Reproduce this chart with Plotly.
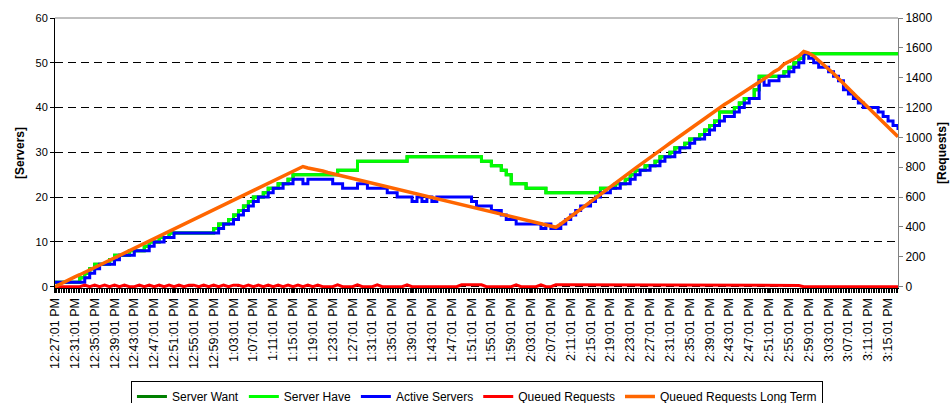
import pandas as pd
import plotly.graph_objects as go

# ---- data (one value per minute, 12:27:01 PM onwards) ----
server_have = [
    1, 1, 1, 1, 1, 2, 3, 4, 5, 5,
    5, 6, 7, 7, 7, 8, 8, 8, 9, 10,
    10, 11, 11, 12, 12, 12, 12, 12, 12, 12,
    12, 12, 13, 14, 14, 15, 16, 17, 18, 19,
    20, 20, 21, 22, 22, 23, 23, 24, 25, 25,
    25, 25, 25, 25, 25, 25, 25, 26, 26, 26,
    26, 28, 28, 28, 28, 28, 28, 28, 28, 28,
    28, 29, 29, 29, 29, 29, 29, 29, 29, 29,
    29, 29, 29, 29, 29, 29, 28, 28, 27, 27,
    26, 25, 23, 23, 23, 22, 22, 22, 22, 21,
    21, 21, 21, 21, 21, 21, 21, 21, 21, 21,
    22, 22, 22, 23, 23, 24, 25, 26, 26, 27,
    27, 28, 29, 29, 30, 31, 31, 32, 33, 33,
    34, 35, 36, 37, 39, 39, 39, 40, 41, 42,
    42, 44, 47, 47, 47, 47, 47, 48, 49, 50,
    51, 52, 52, 52, 52, 52, 52, 52, 52, 52,
    52, 52, 52, 52, 52, 52, 52, 52, 52, 52,
    52,
]
server_want = list(server_have)

active_servers = [
    1, 1, 1, 1, 1, 1, 2, 3, 4, 5,
    5, 5, 6, 7, 7, 7, 8, 8, 8, 9,
    10, 10, 11, 11, 12, 12, 12, 12, 12, 12,
    12, 12, 12, 13, 14, 14, 15, 16, 17, 18,
    19, 20, 20, 21, 22, 22, 23, 23, 24, 24,
    23, 24, 24, 24, 24, 24, 23, 23, 22, 22,
    22, 23, 23, 22, 22, 22, 22, 21, 21, 20,
    20, 20, 19, 20, 19, 20, 19, 20, 20, 20,
    20, 20, 20, 20, 19, 18, 18, 18, 17, 17,
    16, 15, 15, 14, 14, 14, 14, 14, 13, 14,
    13, 13, 14, 15, 16, 17, 18, 18, 19, 20,
    21, 21, 22, 22, 23, 23, 24, 25, 26, 26,
    27, 27, 28, 29, 29, 30, 31, 31, 32, 33,
    33, 34, 35, 36, 37, 38, 38, 39, 40, 41,
    42, 42, 46, 45, 46, 46, 47, 47, 48, 49,
    50, 52, 51, 50, 49, 49, 48, 47, 46, 44,
    43, 42, 41, 40, 40, 40, 39, 38, 37, 36,
    35,
]

queued_requests = [
    0, 0, 0, 0, 0, 0, 10, 0, 10, 0,
    10, 0, 10, 0, 10, 0, 0, 10, 0, 10,
    0, 10, 0, 10, 0, 10, 0, 10, 10, 0,
    10, 0, 10, 0, 10, 0, 10, 10, 0, 10,
    0, 10, 0, 10, 0, 10, 0, 10, 0, 10,
    0, 10, 0, 10, 0, 0, 0, 12, 0, 0,
    0, 12, 0, 0, 0, 12, 0, 0, 0, 0,
    0, 12, 0, 0, 0, 0, 0, 0, 0, 0,
    0, 0, 12, 12, 12, 12, 12, 0, 0, 0,
    0, 0, 0, 12, 0, 0, 0, 0, 12, 0,
    0, 12, 12, 12, 12, 12, 12, 12, 8, 12,
    8, 12, 8, 12, 8, 12, 8, 12, 8, 12,
    8, 12, 8, 12, 8, 12, 8, 12, 8, 12,
    8, 12, 8, 12, 8, 12, 12, 12, 8, 12,
    8, 12, 8, 12, 8, 12, 8, 12, 8, 12,
    8, 0, 0, 0, 0, 0, 0, 0, 0, 0,
    0, 0, 0, 0, 0, 0, 0, 0, 0, 0,
    0,
]

queued_long_term = [
    0, 18, 34, 50, 66, 80, 96, 112, 128, 145,
    160, 176, 192, 208, 224, 240, 255, 272, 288, 304,
    320, 336, 352, 368, 383, 400, 416, 432, 448, 464,
    480, 496, 512, 528, 543, 560, 576, 592, 608, 624,
    640, 656, 672, 688, 703, 720, 736, 752, 768, 784,
    805, 795, 790, 780, 775, 765, 757, 750, 742, 735,
    727, 718, 710, 703, 695, 687, 679, 671, 663, 655,
    647, 640, 632, 624, 616, 608, 600, 592, 584, 576,
    568, 560, 552, 544, 536, 528, 520, 512, 504, 497,
    489, 481, 473, 465, 457, 449, 441, 433, 425, 417,
    410, 398, 420, 445, 470, 497, 522, 548, 573, 598,
    624, 650, 674, 697, 720, 745, 768, 792, 815, 840,
    864, 888, 912, 937, 961, 985, 1008, 1032, 1055, 1078,
    1102, 1126, 1150, 1173, 1197, 1220, 1241, 1262, 1283, 1304,
    1325, 1347, 1370, 1392, 1414, 1440, 1458, 1490, 1505, 1525,
    1545, 1575, 1565, 1545, 1515, 1488, 1460, 1428, 1395, 1360,
    1325, 1293, 1262, 1232, 1200, 1170, 1140, 1108, 1075, 1042,
    1005,
]

start_time = "2009-01-01 12:27:01"
times = pd.date_range(start=start_time, periods=len(active_servers), freq="min")

assert len(server_have) == len(active_servers) == len(queued_requests) == len(queued_long_term)

FONT = "Arial, 'Liberation Sans', sans-serif"

fig = go.Figure()
fig.add_trace(go.Scatter(x=times, y=server_want, name="Server Want", mode="lines",
                         line=dict(color="#008000", width=3, shape="hv")))
fig.add_trace(go.Scatter(x=times, y=server_have, name="Server Have", mode="lines",
                         line=dict(color="#00FF00", width=3, shape="hv")))
fig.add_trace(go.Scatter(x=times, y=active_servers, name="Active Servers", mode="lines",
                         line=dict(color="#0000FF", width=3, shape="hv")))
fig.add_trace(go.Scatter(x=times, y=queued_requests, name="Queued Requests", mode="lines",
                         line=dict(color="#FF0000", width=3), yaxis="y2"))
fig.add_trace(go.Scatter(x=times, y=queued_long_term, name="Queued Requests Long Term", mode="lines",
                         line=dict(color="#FF6600", width=3.5), yaxis="y2"))

fig.update_layout(
    width=952, height=403,
    margin=dict(l=55, r=54, t=18, b=115),
    paper_bgcolor="white", plot_bgcolor="white",
    font=dict(family=FONT, size=12, color="black"),
    showlegend=True,
    legend=dict(orientation="h", xref="container", x=0.501, xanchor="center",
                yref="container", y=1 - 381 / 403, yanchor="top",
                bordercolor="black", borderwidth=1, bgcolor="white",
                font=dict(size=12), traceorder="normal"),
    xaxis=dict(
        type="date",
        range=[times[0], times[-1]],
        tick0=times[0], dtick=240000,
        tickformat="%-I:%M:%S %p",
        tickangle=-90,
        tickfont=dict(size=12.5),
        ticks="outside", ticklen=4, tickcolor="black",
        minor=dict(dtick=20000, ticks="outside", ticklen=4, tickcolor="black"),
        showline=True, linecolor="black", linewidth=1,
        showgrid=False, zeroline=False, automargin=False,
    ),
    yaxis=dict(
        range=[-0.3, 60], tick0=0, dtick=10,
        tickfont=dict(size=11),
        ticks="outside", ticklen=4, tickcolor="black",
        showline=True, linecolor="black", linewidth=1,
        showgrid=True, gridcolor="black", gridwidth=1, griddash="8px,5px",
        zeroline=False, automargin=False,
        title=dict(text="<b>[Servers]</b>", font=dict(size=12), standoff=8),
    ),
    yaxis2=dict(
        overlaying="y", side="right",
        range=[-9, 1800], tick0=0, dtick=200,
        tickfont=dict(size=12),
        ticks="outside", ticklen=4, tickcolor="#808080",
        showline=True, linecolor="#808080", linewidth=1,
        showgrid=False, zeroline=False, automargin=False,
        title=dict(text="<b>[Requests]</b>", font=dict(size=12), standoff=6),
    ),
    shapes=[dict(type="line", xref="paper", yref="paper", x0=0, x1=1, y0=1, y1=1,
                 line=dict(color="#808080", width=1))],
)

fig.write_html("out.html", config={"displayModeBar": False},
               post_script="document.body.style.margin='0px';document.body.style.overflow='hidden';")
